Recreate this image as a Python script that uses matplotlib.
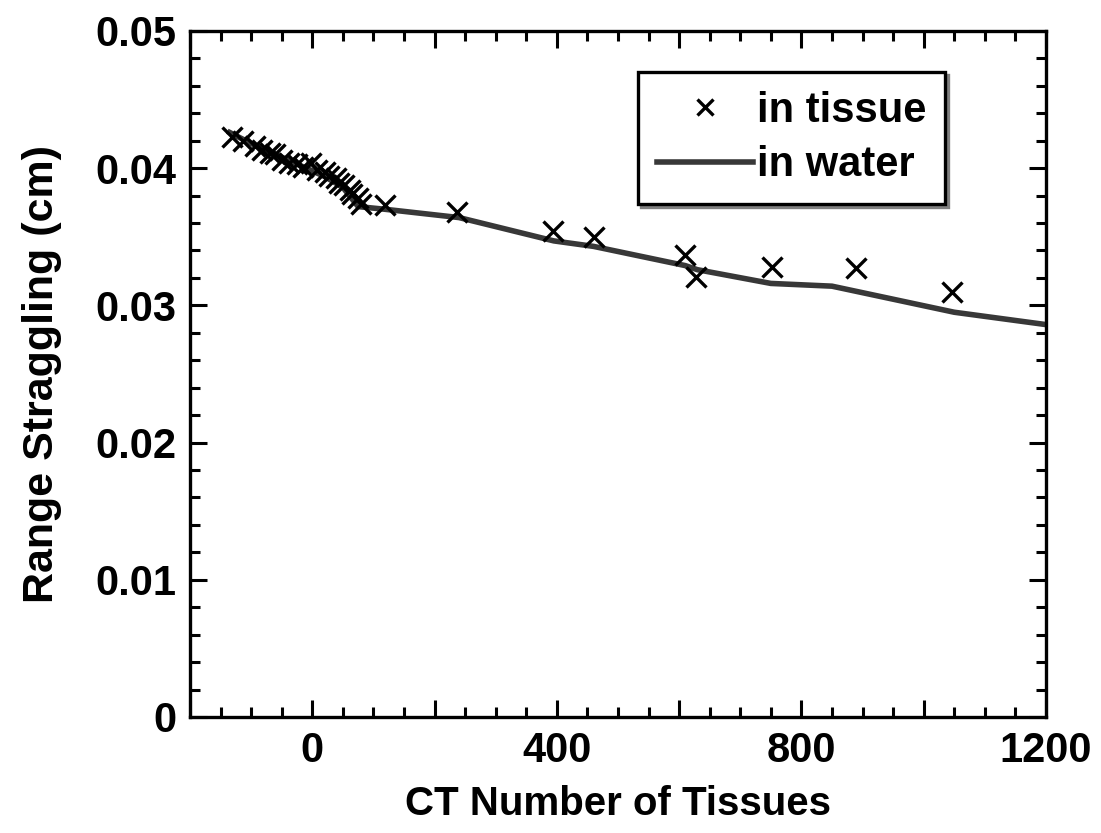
import matplotlib.pyplot as plt
from matplotlib.ticker import MultipleLocator, FixedLocator

plt.rcParams['font.family'] = ['Liberation Sans', 'DejaVu Sans']
plt.rcParams['font.weight'] = 'bold'

# range straggling in tissue (markers)
ct_tissue = [-132, -114, -93, -83, -70, -61, -49, -38, -25, -16, -2, 8, 20, 28,
             38, 44, 52, 61, 65, 74, 80, 119, 237, 393, 461, 610, 628, 752, 890, 1047]
strag_tissue = [0.0423, 0.0420, 0.0416, 0.0413, 0.0411, 0.0410, 0.0406, 0.0404,
                0.0403, 0.0401, 0.0404, 0.0399, 0.0397, 0.0394, 0.0393, 0.0389,
                0.0388, 0.0384, 0.0381, 0.0378, 0.0374, 0.0373, 0.0368, 0.0354,
                0.0350, 0.0337, 0.0321, 0.0328, 0.0327, 0.0310]

# range straggling in water (line)
ct_water = [-135, -100, -60, -20, 20, 50, 75, 120, 240, 395, 460, 610, 630,
            750, 850, 1050, 1200]
strag_water = [0.0426, 0.0418, 0.0410, 0.0402, 0.0394, 0.0386, 0.0372, 0.0370,
               0.0364, 0.0347, 0.0343, 0.0329, 0.0326, 0.0316, 0.0314, 0.0295,
               0.0286]

x_ticks = [-200, 0, 200, 400, 600, 800, 1000, 1200]
x_labels = ['', '0', '', '400', '', '800', '', '1200']
y_ticks = [0, 0.01, 0.02, 0.03, 0.04, 0.05]
y_labels = ['0', '0.01', '0.02', '0.03', '0.04', '0.05']

fig = plt.figure(figsize=(11.01, 8.33), dpi=100)
ax = fig.add_axes([0.1726, 0.1393, 0.7774, 0.8235])

ax.plot(ct_tissue, strag_tissue, ls='none', marker='x', ms=14, mew=2.4,
        color='black', label='in tissue', zorder=3)
ax.plot(ct_water, strag_water, color='#383838', lw=4, label='in water', zorder=2)

ax.set_xlim(-200, 1200)
ax.set_ylim(0, 0.05)
ax.xaxis.set_major_locator(FixedLocator(x_ticks))
ax.set_xticklabels(x_labels)
ax.xaxis.set_minor_locator(MultipleLocator(50))
ax.yaxis.set_major_locator(FixedLocator(y_ticks))
ax.set_yticklabels(y_labels)
ax.yaxis.set_minor_locator(MultipleLocator(0.002))

ax.tick_params(which='both', direction='in', top=True, right=True, width=2.2)
ax.tick_params(which='major', length=12, labelsize=30, pad=10)
ax.tick_params(which='minor', length=7)
for s in ax.spines.values():
    s.set_linewidth(2.4)

ax.set_xlabel('CT Number of Tissues', fontsize=29, fontweight='bold', labelpad=10)
ax.set_ylabel('Range Straggling (cm)', fontsize=31, fontweight='bold', labelpad=24)

leg = ax.legend(loc='upper right', bbox_to_anchor=(0.882, 0.940), fontsize=30,
                frameon=True, fancybox=False, shadow={'color': '#808080', 'alpha': 1},
                handlelength=2.3, handletextpad=0.1, borderpad=0.45,
                borderaxespad=0, labelspacing=0.35, markerscale=0.8)
leg.get_frame().set_edgecolor('black')
leg.get_frame().set_linewidth(2.4)

fig.savefig('out.png', dpi=100)
